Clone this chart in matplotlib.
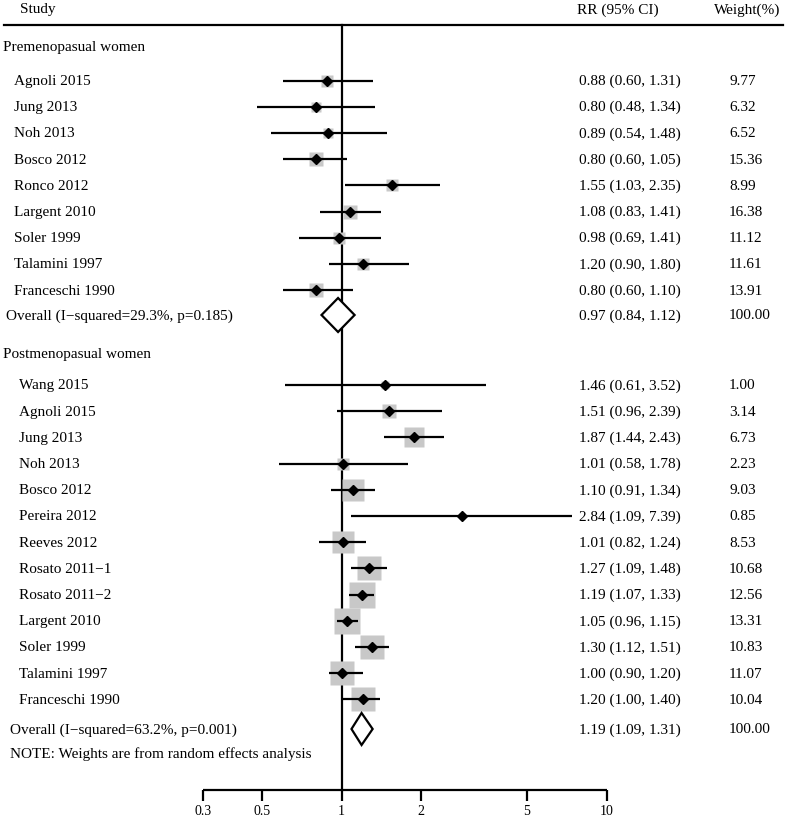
import matplotlib.pyplot as plt
import numpy as np
from matplotlib.patches import Polygon

plt.rcParams['font.family'] = ['Liberation Serif', 'DejaVu Serif']

# Premenopausal studies
pre_studies = ['Agnoli 2015', 'Jung 2013', 'Noh 2013', 'Bosco 2012', 'Ronco 2012',
               'Largent 2010', 'Soler 1999', 'Talamini 1997', 'Franceschi 1990']
pre_rr = [0.88, 0.80, 0.89, 0.80, 1.55, 1.08, 0.98, 1.20, 0.80]
pre_lo = [0.60, 0.48, 0.54, 0.60, 1.03, 0.83, 0.69, 0.90, 0.60]
pre_hi = [1.31, 1.34, 1.48, 1.05, 2.35, 1.41, 1.41, 1.80, 1.10]
pre_w = [9.77, 6.32, 6.52, 15.36, 8.99, 16.38, 11.12, 11.61, 13.91]
pre_overall = (0.97, 0.84, 1.12)
pre_het = 'Overall (I\u2212squared=29.3%, p=0.185)'

# Postmenopausal studies
post_studies = ['Wang 2015', 'Agnoli 2015', 'Jung 2013', 'Noh 2013', 'Bosco 2012',
                'Pereira 2012', 'Reeves 2012', 'Rosato 2011\u22121', 'Rosato 2011\u22122',
                'Largent 2010', 'Soler 1999', 'Talamini 1997', 'Franceschi 1990']
post_rr = [1.46, 1.51, 1.87, 1.01, 1.10, 2.84, 1.01, 1.27, 1.19, 1.05, 1.30, 1.00, 1.20]
post_lo = [0.61, 0.96, 1.44, 0.58, 0.91, 1.09, 0.82, 1.09, 1.07, 0.96, 1.12, 0.90, 1.00]
post_hi = [3.52, 2.39, 2.43, 1.78, 1.34, 7.39, 1.24, 1.48, 1.33, 1.15, 1.51, 1.20, 1.40]
post_w = [1.00, 3.14, 6.73, 2.23, 9.03, 0.85, 8.53, 10.68, 12.56, 13.31, 10.83, 11.07, 10.04]
post_overall = (1.19, 1.09, 1.31)
post_het = 'Overall (I\u2212squared=63.2%, p=0.001)'

xticks = [0.3, 0.5, 1, 2, 5, 10]
xticklabels = ['0.3', '0.5', '1', '2', '5', '10']

W, H = 787, 820
fig = plt.figure(figsize=(W / 100, H / 100), dpi=100)
ax = fig.add_axes([0, 0, 1, 1])
ax.set_xscale('log')
# 265 px per decade, 0.3 at x=203
ppd = 265.0
ax.set_xlim(0.3 * 10 ** (-203 / ppd), 0.3 * 10 ** ((W - 203) / ppd))
ax.set_ylim(H, 0)
ax.axis('off')

tx = ax.get_yaxis_transform()  # x in axes fraction, y in data
fs = 11
gray = '#c8c8c8'
RR_X, W_X = 579, 729


def px(x):
    return x / W


def fmt(rr, lo, hi):
    return f'{rr:.2f} ({lo:.2f}, {hi:.2f})'


def draw_group(y0, studies, rr, lo, hi, w, scale, name_x):
    step = 26.2
    for i, s in enumerate(studies):
        y = y0 + i * step
        side = scale * np.sqrt(w[i]) * 0.72
        ax.plot([rr[i]], [y], marker='s', ms=side, color=gray, mec='none', zorder=2)
        ax.plot([lo[i], hi[i]], [y, y], color='black', lw=1.6, zorder=3,
                solid_capstyle='butt')
        ax.plot([rr[i]], [y], marker='D', ms=5.2, color='black', zorder=4)
        ax.text(px(name_x), y, s, transform=tx, fontsize=fs, va='center')
        ax.text(px(RR_X), y, fmt(rr[i], lo[i], hi[i]), transform=tx, fontsize=fs, va='center')
        ax.text(px(W_X), y, f'{w[i]:.2f}', transform=tx, fontsize=fs, va='center')


def draw_overall(y, est, label, half, label_x):
    rr, lo, hi = est
    dia = Polygon([[lo, y], [rr, y - half], [hi, y], [rr, y + half]], closed=True,
                  fill=True, facecolor='white', edgecolor='black', lw=1.6, zorder=5)
    ax.add_patch(dia)
    ax.text(px(label_x), y, label, transform=tx, fontsize=fs, va='center')
    ax.text(px(RR_X), y, fmt(rr, lo, hi), transform=tx, fontsize=fs, va='center')
    ax.text(px(W_X), y, '100.00', transform=tx, fontsize=fs, va='center')


# header
ax.text(px(20), 10, 'Study', transform=tx, fontsize=fs, va='center')
ax.text(px(577), 10, 'RR (95% CI)', transform=tx, fontsize=fs, va='center')
ax.text(px(714), 10, 'Weight(%)', transform=tx, fontsize=fs, va='center')
ax.plot([px(4), px(783)], [26, 26], transform=tx, color='black', lw=1.6)

# null line
ax.plot([1, 1], [26, 791], color='black', lw=1.6, zorder=1)

ax.text(px(3), 48, 'Premenopasual women', transform=tx, fontsize=fs, va='center')
draw_group(81.5, pre_studies, pre_rr, pre_lo, pre_hi, pre_w, 3.7, 14)
draw_overall(316, pre_overall, pre_het, 17, 6)

ax.text(px(3), 355, 'Postmenopasual women', transform=tx, fontsize=fs, va='center')
draw_group(386, post_studies, post_rr, post_lo, post_hi, post_w, 7.4, 19)
draw_overall(730, post_overall, post_het, 16, 10)

ax.text(px(10), 754, 'NOTE: Weights are from random effects analysis', transform=tx,
        fontsize=fs, va='center')

# x axis
ax.plot([xticks[0], xticks[-1]], [791, 791], color='black', lw=1.6, solid_capstyle='butt')
for t, lab in zip(xticks, xticklabels):
    ax.plot([t, t], [791, 802], color='black', lw=1.6, solid_capstyle='butt')
    ax.text(t, 812, lab, ha='center', va='center', fontsize=10)

fig.savefig('out.png', dpi=100)
